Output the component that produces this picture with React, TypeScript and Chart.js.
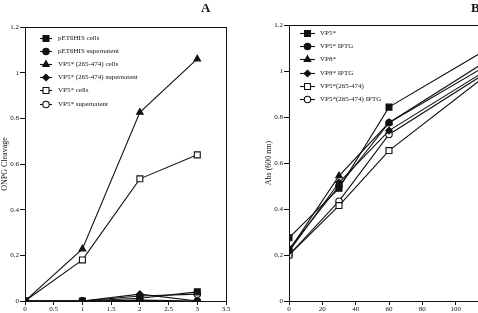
import React, { useEffect, useRef } from 'react';
import { Chart, registerables } from 'chart.js';
import { drawPoint } from 'chart.js/helpers';

Chart.register(...registerables);

const INK = '#111';
const SERIF = '"Liberation Serif", "Times New Roman", serif';

// Panel A: ONPG cleavage over time
const timeA = [0, 1, 2, 3];
const pet6hisCells = [0, 0, 0.012, 0.04];
const pet6hisSupernatant = [0, 0, 0.004, 0];
const vp5TruncCells = [0, 0.228, 0.826, 1.06];
const vp5TruncSupernatant = [0, 0, 0.03, 0];
const vp5Cells = [0, 0.18, 0.535, 0.64];
const vp5Supernatant = [0, 0, 0.022, 0.03];

// Panel B: culture growth, Abs (600 nm)
const timeB = [0, 30, 60, 120];
const vp5 = [0.275, 0.49, 0.843, 1.1];
const vp5Iptg = [0.225, 0.5, 0.775, 1.05];
const vp8 = [0.22, 0.544, 0.775, 1.03];
const vp8Iptg = [0.215, 0.515, 0.741, 1.01];
const vp5Trunc = [0.2, 0.415, 0.654, 0.99];
const vp5TruncIptg = [0.2, 0.434, 0.724, 1.0];

const ticksA_X = { min: 0, max: 3.5, step: 0.5 };
const ticksB_X = { min: 0, max: 120, step: 20 };
const ticksY = { min: 0, max: 1.2, step: 0.2 };

type Marker = { style: string; filled: boolean; radius: number };
const SQ: Marker = { style: 'rect', filled: true, radius: 4.2 };
const CI: Marker = { style: 'circle', filled: true, radius: 3.2 };
const TR: Marker = { style: 'triangle', filled: true, radius: 3.8 };
const DI: Marker = { style: 'rectRot', filled: true, radius: 3.3 };
const OSQ: Marker = { style: 'rect', filled: false, radius: 4.2 };
const OCI: Marker = { style: 'circle', filled: false, radius: 3.2 };

// Plain numeric labels: 0, 0.5, 1, 1.2 ...
const plainTick = (v: number | string) => String(Number(Number(v).toFixed(2)));

function series(label: string, xs: number[], ys: number[], m: Marker) {
  return {
    label,
    data: xs.map((x, i) => ({ x, y: ys[i] })),
    borderColor: INK,
    borderWidth: 1.1,
    pointStyle: m.style,
    pointRadius: m.radius,
    pointBackgroundColor: m.filled ? INK : '#fff',
    pointBorderColor: INK,
    pointBorderWidth: 1.1,
    fill: false,
    tension: 0,
  };
}

const insetLegend = {
  id: 'insetLegend',
  afterDatasetsDraw(chart: any, _args: any, opts: any) {
    const { ctx } = chart;
    ctx.save();
    ctx.font = `${opts.fontSize}px ${SERIF}`;
    ctx.textBaseline = 'middle';
    ctx.textAlign = 'left';
    chart.data.datasets.forEach((ds: any, i: number) => {
      const y = Math.round(opts.y + i * opts.step) + 0.5;
      ctx.strokeStyle = INK;
      ctx.lineWidth = 1.1;
      ctx.beginPath();
      ctx.moveTo(opts.x, y);
      ctx.lineTo(opts.x + opts.lineLen, y);
      ctx.stroke();
      ctx.fillStyle = ds.pointBackgroundColor;
      drawPoint(
        ctx,
        { pointStyle: ds.pointStyle, radius: ds.pointRadius, rotation: 0, borderWidth: 1 } as any,
        opts.x + opts.lineLen / 2,
        y
      );
      ctx.fillStyle = INK;
      ctx.fillText(ds.label, opts.x + opts.lineLen + opts.gap, y);
    });
    ctx.restore();
  },
};

const frame = {
  id: 'frame',
  afterDraw(chart: any, _args: any, opts: any) {
    const { ctx, chartArea: a } = chart;
    ctx.save();
    ctx.strokeStyle = INK;
    ctx.lineWidth = 1;
    ctx.strokeRect(
      Math.round(a.left) + 0.5,
      Math.round(a.top) + 0.5,
      Math.round(a.right) - Math.round(a.left),
      Math.round(a.bottom) - Math.round(a.top)
    );
    ctx.fillStyle = INK;
    ctx.font = `bold 13px ${SERIF}`;
    ctx.textAlign = 'left';
    ctx.textBaseline = 'middle';
    ctx.fillText(opts.letter, opts.letterX, opts.letterY);
    ctx.restore();
  },
};

function buildConfig(p: {
  datasets: any[];
  xTicks: { min: number; max: number; step: number };
  yTitle: string;
  padding: any;
  legend: any;
  letter: string;
  letterX: number;
  letterY: number;
}) {
  const tickFont = { size: 7, family: SERIF };
  return {
    type: 'line' as const,
    data: { datasets: p.datasets },
    plugins: [insetLegend, frame],
    options: {
      animation: false as const,
      responsive: false,
      maintainAspectRatio: false,
      layout: { padding: p.padding },
      plugins: {
        legend: { display: false },
        tooltip: { enabled: false },
        insetLegend: p.legend,
        frame: { letter: p.letter, letterX: p.letterX, letterY: p.letterY },
      },
      scales: {
        x: {
          type: 'linear' as const,
          min: p.xTicks.min,
          max: p.xTicks.max,
          ticks: {
            stepSize: p.xTicks.step,
            autoSkip: false,
            maxRotation: 0,
            font: tickFont,
            color: INK,
            padding: 0,
            callback: plainTick,
          },
          grid: { drawOnChartArea: false, drawTicks: true, tickLength: 4, color: INK },
          border: { display: true, color: INK, width: 1 },
          afterFit: (s: any) => {
            s.height = 12;
          },
        },
        y: {
          type: 'linear' as const,
          min: ticksY.min,
          max: ticksY.max,
          ticks: { stepSize: ticksY.step, autoSkip: false, font: tickFont, color: INK, padding: 1, callback: plainTick },
          grid: { drawOnChartArea: false, drawTicks: true, tickLength: 5, color: INK },
          border: { display: true, color: INK, width: 1 },
          title: { display: true, text: p.yTitle, font: { size: 8, family: SERIF }, color: INK, padding: 0 },
          afterFit: (s: any) => {
            s.width = 25;
          },
        },
      },
    },
  };
}

function Panel(props: { config: any; left: number; width: number; height: number }) {
  const ref = useRef<HTMLCanvasElement | null>(null);
  useEffect(() => {
    if (!ref.current) return;
    const chart = new Chart(ref.current, props.config);
    return () => chart.destroy();
  }, [props.config]);
  return (
    <canvas
      ref={ref}
      width={props.width}
      height={props.height}
      style={{ position: 'absolute', left: props.left, top: 0, width: props.width, height: props.height, display: 'block' }}
    />
  );
}

const configA = buildConfig({
  datasets: [
    series('pET6HIS cells', timeA, pet6hisCells, SQ),
    series('pET6HIS supernatent', timeA, pet6hisSupernatant, CI),
    series('VP5* (265-474) cells', timeA, vp5TruncCells, TR),
    series('VP5* (265-474) supernatent', timeA, vp5TruncSupernatant, DI),
    series('VP5* cells', timeA, vp5Cells, OSQ),
    series('VP5* supernatent', timeA, vp5Supernatant, OCI),
  ],
  xTicks: ticksA_X,
  yTitle: 'ONPG Cleavage',
  padding: { left: 0, top: 27, right: 14, bottom: 0 },
  legend: { x: 40, y: 37.5, step: 13.2, lineLen: 12, gap: 6, fontSize: 7 },
  letter: 'A',
  letterX: 201,
  letterY: 9,
});

const configB = buildConfig({
  datasets: [
    series('VP5*', timeB, vp5, SQ),
    series('VP5* IPTG', timeB, vp5Iptg, CI),
    series('VP8*', timeB, vp8, TR),
    series('VP8* IPTG', timeB, vp8Iptg, DI),
    series('VP5*(265-474)', timeB, vp5Trunc, OSQ),
    series('VP5*(265-474) IPTG', timeB, vp5TruncIptg, OCI),
  ],
  xTicks: ticksB_X,
  yTitle: 'Abs (600 nm)',
  padding: { left: 24, top: 25, right: 11, bottom: 0 },
  legend: { x: 60, y: 33, step: 13.2, lineLen: 15, gap: 5, fontSize: 7 },
  letter: 'B',
  letterX: 231,
  letterY: 9,
});

export default function App() {
  return (
    <div
      style={{
        position: 'fixed',
        left: 0,
        top: 0,
        width: 478,
        height: 313,
        overflow: 'hidden',
        background: '#fff',
      }}
    >
      <Panel config={configA} left={0} width={240} height={313} />
      <Panel config={configB} left={240} width={260} height={313} />
    </div>
  );
}
